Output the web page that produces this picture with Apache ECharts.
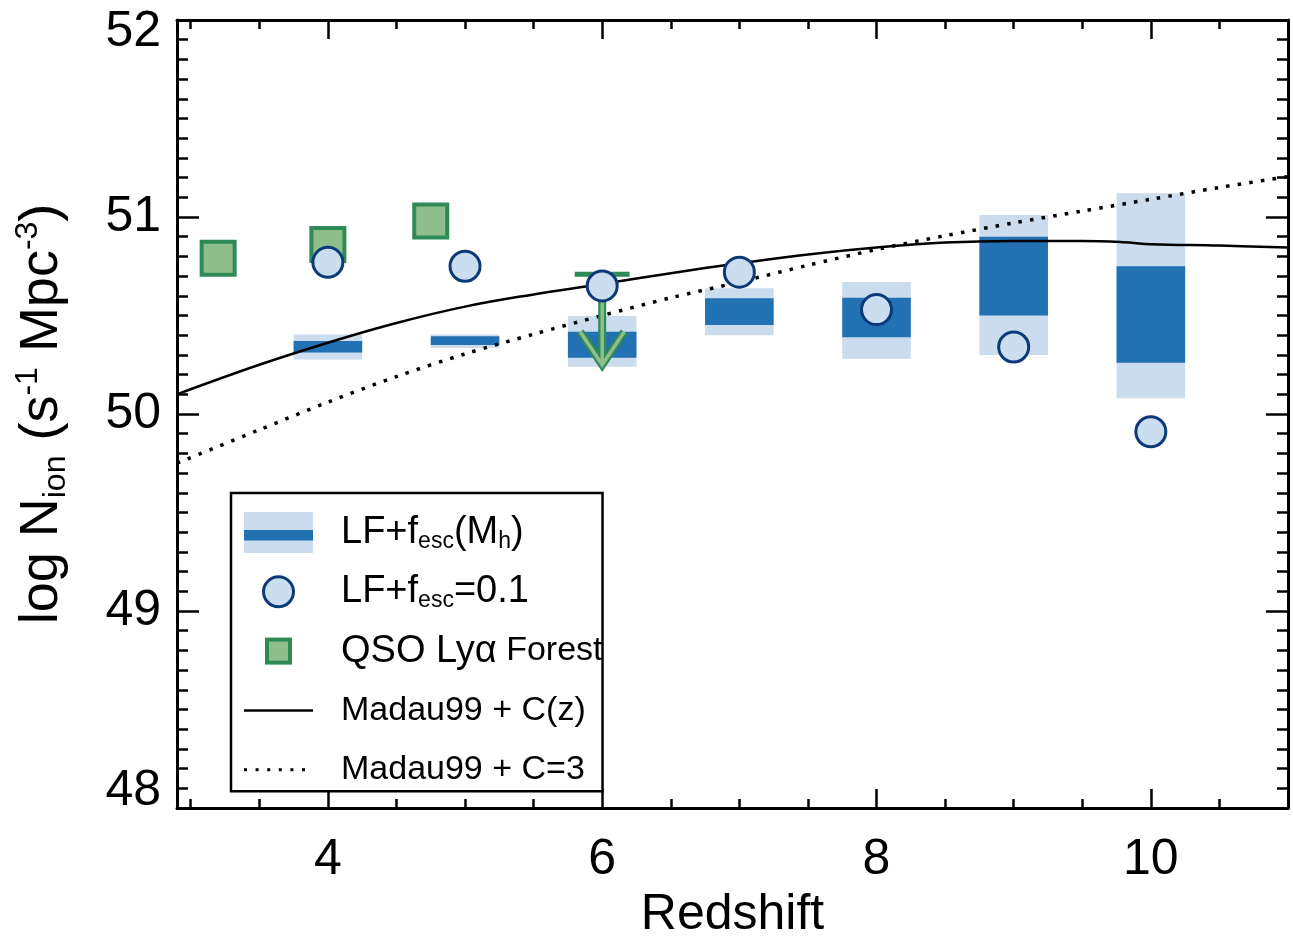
<!DOCTYPE html>
<html><head><meta charset="utf-8">
<script src="https://cdn.jsdelivr.net/npm/echarts@6/dist/echarts.min.js"></script>
<style>html,body{margin:0;padding:0;background:#fff}#c{width:1293px;height:937px}</style>
</head><body><div id="c"></div>
<script>
// ---- data ----
const boxZ      = [4, 5, 6, 7, 8, 9, 10];
const outerLow  = [50.277, 50.335, 50.24, 50.40, 50.28, 50.30, 50.08];
const outerHigh = [50.403, 50.403, 50.497, 50.638, 50.67, 51.01, 51.12];
const innerLow  = [50.312, 50.35, 50.285, 50.452, 50.39, 50.50, 50.26];
const innerHigh = [50.371, 50.395, 50.418, 50.587, 50.59, 50.90, 50.75];

const fescZ   = [4, 5, 6, 7, 8, 9, 10];
const fesc01  = [50.77, 50.75, 50.65, 50.72, 50.53, 50.34, 49.91];

const qsoZ    = [3.2, 4.0, 4.75];
const qsoVal  = [50.79, 50.86, 50.98];
const qsoLimZ   = [6];
const qsoLimTop = [50.71];
const qsoLimTip = [50.25];

const madauZ   = [2.9, 3.5, 4, 4.5, 5, 5.5, 6, 6.5, 7, 7.5, 8, 8.5, 9, 9.5, 9.8, 10, 10.5, 11];
const madauCz  = [50.10, 50.25, 50.362, 50.462, 50.545, 50.607, 50.66, 50.715, 50.765, 50.81, 50.845, 50.87, 50.878, 50.878, 50.872, 50.862, 50.855, 50.845];
const madauC3Z = [2.9, 3.5, 4, 4.5, 5, 5.5, 6, 6.5, 7, 7.5, 8, 8.5, 9, 9.5, 10, 10.5, 11];
const madauC3  = [49.75, 49.92, 50.06, 50.19, 50.305, 50.405, 50.50, 50.59, 50.67, 50.755, 50.835, 50.905, 50.97, 51.03, 51.09, 51.15, 51.205];

const xMajorTicks = [4, 6, 8, 10];
const xMinorTicks = [3, 3.5, 4.5, 5, 5.5, 6.5, 7, 7.5, 8.5, 9, 9.5, 10.5, 11];
const yTickLabels = [48, 49, 50, 51, 52];

// ---- styles ----
const LIGHT = '#cadcee', DARK = '#2272b3';
const CFILL = '#cbdef0', CEDGE = '#0c3a78';
const SFILL = '#8fbe8c', SEDGE = '#2e8b55';
const FONT = "'Liberation Sans', Arial, Helvetica, sans-serif";
const NARROW = "'Liberation Sans Narrow', 'Liberation Sans', Arial, sans-serif";
const HALF = 0.25;

function svgIcon(body) {
  return 'image://data:image/svg+xml;charset=utf-8,' + encodeURIComponent(
    "<svg xmlns='http://www.w3.org/2000/svg' width='69' height='41' viewBox='0 0 69 41'>" + body + "</svg>");
}
const iconBar = svgIcon(`<rect x='0' y='0' width='69' height='41' fill='${LIGHT}'/><rect x='0' y='18' width='69' height='10.5' fill='${DARK}'/>`);
const iconCircle = svgIcon(`<circle cx='34.5' cy='20.5' r='15' fill='${CFILL}' stroke='${CEDGE}' stroke-width='3'/>`);
const iconSquare = svgIcon(`<rect x='23' y='9' width='23' height='23' fill='${SFILL}' stroke='${SEDGE}' stroke-width='4'/>`);
const iconSolid = svgIcon(`<line x1='0' y1='20.5' x2='69' y2='20.5' stroke='#000' stroke-width='2.5'/>`);
let dots = '';
for (let i = 0; i < 6; i++) dots += `<rect x='${i * 11.6}' y='19' width='3' height='3' fill='#000'/>`;
const iconDotted = svgIcon(dots);

const legendRich = {
  'LF+fesc(Mh)': '{a|LF+f}{s|esc}{a|(M}{s|h}{a|)}',
  'LF+fesc=0.1': '{a|LF+f}{s|esc}{a|=0.1}',
  'QSO Lyα Forest': '{a|QSO Ly}{a|α}{n| Forest}',
  'Madau99 + C(z)': '{n|Madau99 + C(z)}',
  'Madau99 + C=3': '{n|Madau99 + C=3}'
};

function boxRenderer(color) {
  return function (params, api) {
    const x = api.value(0), lo = api.value(1), hi = api.value(2);
    const p1 = api.coord([x - HALF, hi]);
    const p2 = api.coord([x + HALF, lo]);
    return { type: 'rect', shape: { x: p1[0], y: p1[1], width: p2[0] - p1[0], height: p2[1] - p1[1] },
             style: { fill: color } };
  };
}

function limitRenderer(params, api) {
  const x = api.value(0), top = api.value(1), tip = api.value(2);
  const pT = api.coord([x, top]), pB = api.coord([x, tip]);
  const l = api.coord([x - 0.2, top]), r = api.coord([x + 0.2, top]);
  const arm = [[pB[0] - 22, pB[1] - 33], [pB[0], pB[1]], [pB[0] + 22, pB[1] - 33]];
  return { type: 'group', children: [
    { type: 'line', shape: { x1: l[0], y1: l[1], x2: r[0], y2: r[1] }, style: { stroke: SEDGE, lineWidth: 5 } },
    { type: 'line', shape: { x1: pT[0], y1: pT[1], x2: pB[0], y2: pB[1] - 2 }, style: { stroke: SEDGE, lineWidth: 8 } },
    { type: 'polyline', shape: { points: arm }, style: { stroke: SEDGE, lineWidth: 8, lineJoin: 'miter', fill: null } },
    { type: 'line', shape: { x1: pT[0], y1: pT[1], x2: pB[0], y2: pB[1] - 3 }, style: { stroke: SFILL, lineWidth: 3.5 } },
    { type: 'polyline', shape: { points: arm }, style: { stroke: SFILL, lineWidth: 3.5, lineJoin: 'miter', fill: null } }
  ]};
}

const AX = { color: '#000', width: 3 };
function xAxisDef(pos, major, showLine, showLabel) {
  return {
    type: 'value', min: 2.9, max: 11, position: pos,
    axisLine: { show: showLine, onZero: false, lineStyle: AX },
    axisTick: { show: true, inside: true, length: major ? 19 : 9, lineStyle: { color: '#000', width: 2.5 },
                customValues: major ? xMajorTicks : xMinorTicks },
    axisLabel: { show: showLabel, customValues: xMajorTicks, fontSize: 50, color: '#000', fontFamily: FONT, margin: 27 },
    splitLine: { show: false }
  };
}
function yAxisDef(pos, showLabel) {
  return {
    type: 'value', min: 48, max: 52, interval: 1, position: pos,
    axisLine: { show: true, onZero: false, lineStyle: AX },
    axisTick: { show: true, inside: true, length: 22, lineStyle: { color: '#000', width: 2.5 } },
    minorTick: { show: true, splitNumber: 10, length: 11, lineStyle: { color: '#000', width: 2.5 } },
    axisLabel: { show: showLabel, color: '#000', fontFamily: FONT, margin: 16,
                 formatter: v => {
                   if (!yTickLabels.includes(v)) return '';
                   if (v === yTickLabels[0]) return '{lo|' + v + '}';
                   if (v === yTickLabels[yTickLabels.length - 1]) return '{hi|' + v + '}';
                   return '{m|' + v + '}';
                 },
                 rich: {
                   m:  { fontSize: 50, lineHeight: 50, fontFamily: FONT, color: '#000' },
                   lo: { fontSize: 50, lineHeight: 50, fontFamily: FONT, color: '#000', padding: [0, 0, 34, 0] },
                   hi: { fontSize: 50, lineHeight: 50, fontFamily: FONT, color: '#000', padding: [25, 0, 0, 0] }
                 } },
    splitLine: { show: false }
  };
}

const xA = [xAxisDef('bottom', true, true, true), xAxisDef('bottom', false, false, false),
            xAxisDef('top', true, true, false), xAxisDef('top', false, false, false)];
xA[0].name = 'Redshift';
xA[0].nameLocation = 'middle';
xA[0].nameGap = 81;
xA[0].nameTextStyle = { fontSize: 50, color: '#000', fontFamily: FONT };

const yA = [yAxisDef('left', true), yAxisDef('right', false)];
yA[0].name = '{a|log N}{b|ion}{a| (s}{c|-1}{a| Mpc}{c|-3}{a|)}';
yA[0].nameLocation = 'middle';
yA[0].nameGap = 105;
yA[0].nameRotate = 90;
yA[0].nameTextStyle = { color: '#000', fontFamily: FONT, rich: {
  a: { fontSize: 54, lineHeight: 60, fontFamily: FONT, color: '#000' },
  b: { fontSize: 32, lineHeight: 22, verticalAlign: 'bottom', fontFamily: FONT, color: '#000' },
  c: { fontSize: 32, lineHeight: 32, verticalAlign: 'top', fontFamily: FONT, color: '#000' }
}};

const chart = echarts.init(document.getElementById('c'), null, { renderer: 'canvas' });
chart.setOption({
  animation: false,
  backgroundColor: '#fff',
  textStyle: { fontFamily: FONT },
  grid: { left: 177, right: 5, top: 20, bottom: 129, containLabel: false, outerBoundsMode: 'none' },
  xAxis: xA,
  yAxis: yA,
  legend: {
    orient: 'vertical', left: 231, top: 493,
    padding: [19, 0, 1, 13],
    borderColor: '#000', borderWidth: 2.5, backgroundColor: '#fff',
    itemWidth: 69, itemHeight: 41, itemGap: 18.3,
    selectedMode: false,
    data: [
      { name: 'LF+fesc(Mh)', icon: iconBar },
      { name: 'LF+fesc=0.1', icon: iconCircle },
      { name: 'QSO Lyα Forest', icon: iconSquare },
      { name: 'Madau99 + C(z)', icon: iconSolid },
      { name: 'Madau99 + C=3', icon: iconDotted }
    ],
    formatter: name => legendRich[name],
    textStyle: { color: '#000', padding: [0, 0, 0, 23], rich: {
      a: { fontSize: 38, lineHeight: 41, fontFamily: FONT, color: '#000' },
      s: { fontSize: 23, lineHeight: 14, verticalAlign: 'bottom', fontFamily: FONT, color: '#000' },
      n: { fontSize: 34, lineHeight: 41, fontFamily: NARROW, color: '#000' }
    }}
  },
  series: [
    { name: 'LF+fesc(Mh)', type: 'custom', renderItem: boxRenderer(LIGHT), encode: { x: 0, y: [1, 2] },
      data: boxZ.map((z, i) => [z, outerLow[i], outerHigh[i]]), z: 1 },
    { name: 'LF+fesc(Mh)', type: 'custom', renderItem: boxRenderer(DARK), encode: { x: 0, y: [1, 2] },
      data: boxZ.map((z, i) => [z, innerLow[i], innerHigh[i]]), z: 2 },
    { name: 'Madau99 + C(z)', type: 'line', smooth: 0.4, symbol: 'none', z: 3,
      lineStyle: { color: '#000', width: 2.5 },
      data: madauZ.map((z, i) => [z, madauCz[i]]) },
    { name: 'Madau99 + C=3', type: 'line', smooth: 0.3, symbol: 'none', z: 3,
      lineStyle: { color: '#000', width: 3.5, type: [3.5, 8.2], cap: 'butt' },
      data: madauC3Z.map((z, i) => [z, madauC3[i]]) },
    { name: 'QSO Lyα Forest', type: 'custom', renderItem: limitRenderer, encode: { x: 0, y: [1, 2] },
      data: qsoLimZ.map((z, i) => [z, qsoLimTop[i], qsoLimTip[i]]), z: 4 },
    { name: 'QSO Lyα Forest', type: 'scatter', symbol: 'rect', symbolSize: 33, z: 5,
      itemStyle: { color: SFILL, borderColor: SEDGE, borderWidth: 4, opacity: 1 },
      data: qsoZ.map((z, i) => [z, qsoVal[i]]) },
    { name: 'LF+fesc=0.1', type: 'scatter', symbol: 'circle', symbolSize: 30, z: 6,
      itemStyle: { color: CFILL, borderColor: CEDGE, borderWidth: 3, opacity: 1 },
      data: fescZ.map((z, i) => [z, fesc01[i]]) }
  ]
});
</script></body></html>
